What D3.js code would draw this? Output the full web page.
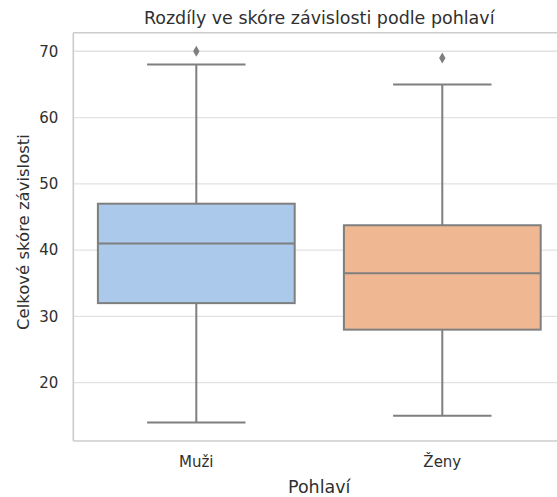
<!DOCTYPE html>
<html>
<head>
<meta charset="utf-8">
<script src="https://cdn.jsdelivr.net/npm/d3@7"></script>
<style>
	body { margin: 0; background: #fff; }
	svg { display: block; font-family: "DejaVu Sans", sans-serif; }
</style>
</head>
<body>
<div id="chart"></div>
<script>
// data
const categories = ["Muži", "Ženy"];
const whiskerLow = [14, 15];
const q1 = [32, 28];
const median = [41, 36.5];
const q3 = [47, 43.75];
const whiskerHigh = [68, 65];
const outliers = [[70], [69]];
const yTicks = [20, 30, 40, 50, 60, 70];
const colors = ["#abc9ea", "#efb792"];

const width = 557;
const height = 497;

const margin = {
	top: 32.7,
	bottom: 56,
	left: 73.3,
	right: -8.3,
};

const lineColor = "#7f7f7f";
const textColor = "#303030";

const svg = d3
	.select("#chart")
	.append("svg")
	.attr("width", width)
	.attr("height", height)
	.style("background", "#fff");

// scale a label's font so its width matches the width seen in the reference
function fitWidth(sel, target) {
	const base = 16;
	sel.style("font-size", base + "px");
	const w = sel.node().getComputedTextLength();
	sel.style("font-size", (base * target) / w + "px");
}

const xScale = d3
	.scaleBand()
	.domain(categories)
	.range([margin.left, width - margin.right])
	.padding(0);

const yScale = d3
	.scaleLinear()
	.domain([11.2, 72.8])
	.range([height - margin.bottom, margin.top]);

// grid lines
svg
	.append("g")
	.selectAll("line")
	.data(yTicks)
	.enter()
	.append("line")
	.attr("x1", margin.left)
	.attr("x2", width)
	.attr("y1", (d) => yScale(d))
	.attr("y2", (d) => yScale(d))
	.attr("stroke", "#e2e2e2")
	.attr("stroke-width", 1.3);

// spines
const spine = svg.append("g").attr("stroke", "#cccccc").attr("stroke-width", 1.6);
spine.append("line")
	.attr("x1", margin.left).attr("x2", margin.left)
	.attr("y1", margin.top).attr("y2", height - margin.bottom);
spine.append("line")
	.attr("x1", margin.left).attr("x2", width)
	.attr("y1", height - margin.bottom).attr("y2", height - margin.bottom);
spine.append("line")
	.attr("x1", margin.left).attr("x2", width)
	.attr("y1", margin.top).attr("y2", margin.top);

// y axis tick labels
const yAxis = svg
	.append("g")
	.attr("transform", `translate(${margin.left}, 0)`)
	.call(d3.axisLeft(yScale).tickValues(yTicks).tickSize(0).tickPadding(15));
yAxis.select(".domain").remove();
yAxis
	.selectAll("text")
	.attr("fill", textColor)
	.style("font-size", "15px")
	.style("font-family", "DejaVu Sans");

// x axis tick labels
const xAxis = svg
	.append("g")
	.attr("transform", `translate(0, ${height - margin.bottom})`)
	.call(d3.axisBottom(xScale).tickSize(0).tickPadding(15));
xAxis.select(".domain").remove();
xAxis
	.selectAll("text")
	.attr("fill", textColor)
	.style("font-size", "15px")
	.style("font-family", "DejaVu Sans");

// boxes
const bw = xScale.bandwidth();
const boxes = svg
	.selectAll("g.box")
	.data(categories)
	.enter()
	.append("g")
	.attr("class", "box");

boxes.each(function (cat, i) {
	const g = d3.select(this);
	const cx = xScale(cat) + bw / 2;
	const boxW = bw * 0.8;
	const capW = boxW / 2;

	// whiskers
	g.append("line")
		.attr("x1", cx).attr("x2", cx)
		.attr("y1", yScale(q3[i])).attr("y2", yScale(whiskerHigh[i]))
		.attr("stroke", lineColor).attr("stroke-width", 2);
	g.append("line")
		.attr("x1", cx).attr("x2", cx)
		.attr("y1", yScale(q1[i])).attr("y2", yScale(whiskerLow[i]))
		.attr("stroke", lineColor).attr("stroke-width", 2);
	[whiskerHigh[i], whiskerLow[i]].forEach((v) => {
		g.append("line")
			.attr("x1", cx - capW / 2).attr("x2", cx + capW / 2)
			.attr("y1", yScale(v)).attr("y2", yScale(v))
			.attr("stroke", lineColor).attr("stroke-width", 2);
	});

	g.append("rect")
		.attr("x", cx - boxW / 2)
		.attr("y", yScale(q3[i]))
		.attr("width", boxW)
		.attr("height", yScale(q1[i]) - yScale(q3[i]))
		.attr("fill", colors[i])
		.attr("stroke", lineColor)
		.attr("stroke-width", 2);

	g.append("line")
		.attr("x1", cx - boxW / 2).attr("x2", cx + boxW / 2)
		.attr("y1", yScale(median[i])).attr("y2", yScale(median[i]))
		.attr("stroke", lineColor).attr("stroke-width", 2);

	g.selectAll("path.flier")
		.data(outliers[i])
		.enter()
		.append("path")
		.attr("class", "flier")
		.attr("d", "M0,-5.5L3.2,0L0,5.5L-3.2,0Z")
		.attr("transform", (d) => `translate(${cx}, ${yScale(d)})`)
		.attr("fill", lineColor);
});

// labels
const title = svg
	.append("text")
	.attr("x", 319.2)
	.attr("y", 24)
	.style("text-anchor", "middle")
	.attr("fill", textColor)
	.text("Rozdíly ve skóre závislosti podle pohlaví");
fitWidth(title, 351);

const xLabel = svg
	.append("text")
	.attr("x", 319.2)
	.attr("y", 493.3)
	.style("text-anchor", "middle")
	.attr("fill", textColor)
	.text("Pohlaví");
xLabel.style("font-size", title.style("font-size"));

const yLabel = svg
	.append("text")
	.attr("transform", `translate(29, 232) rotate(-90)`)
	.style("text-anchor", "middle")
	.attr("fill", textColor)
	.text("Celkové skóre závislosti");
fitWidth(yLabel, 196);
</script>
</body>
</html>
